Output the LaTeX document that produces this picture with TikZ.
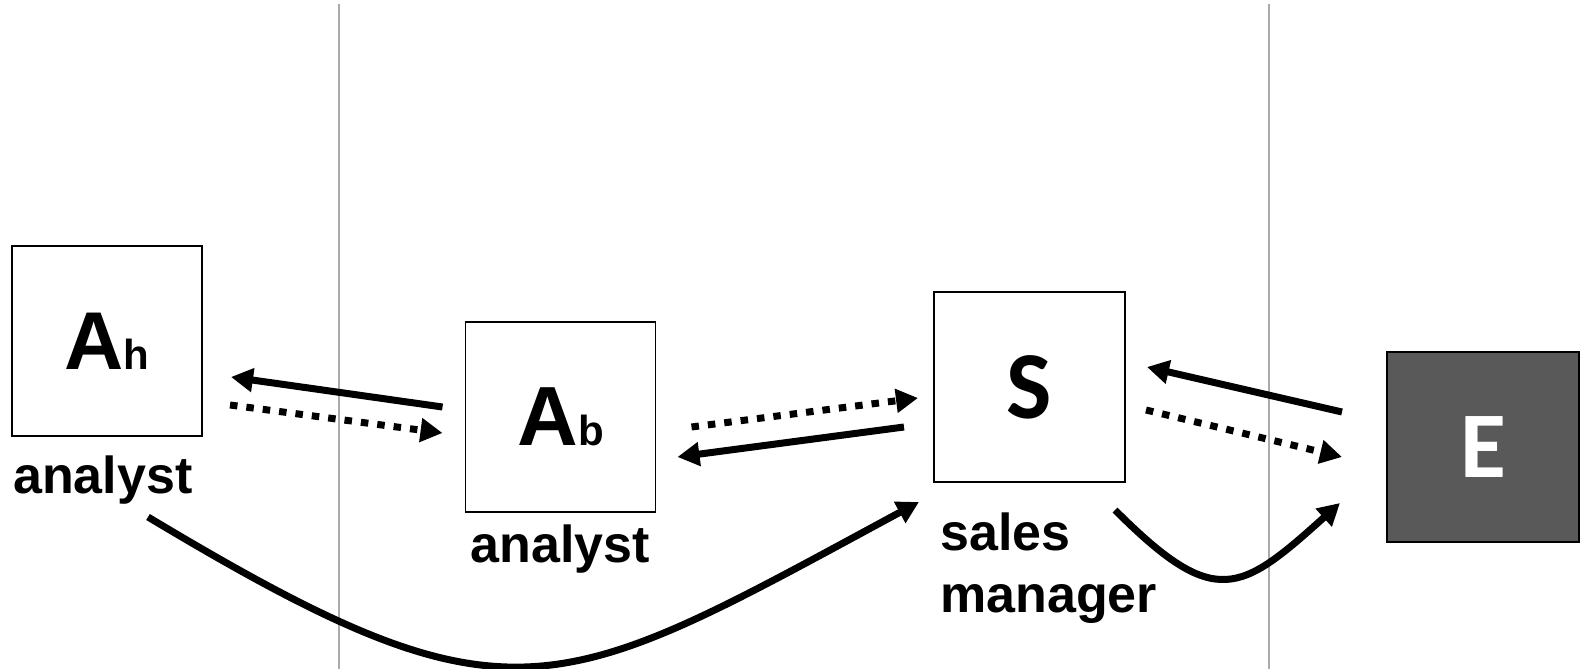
\documentclass[tikz,border=0pt]{standalone}
\usepackage{fontspec}
\setmainfont{Liberation Sans}
\newfontfamily\calib{Carlito}
\usetikzlibrary{arrows.meta,calc}
\definecolor{boxdark}{HTML}{595959}
\definecolor{sepgray}{HTML}{AAAAAA}
\begin{document}
\begin{tikzpicture}[x=1pt,y=-1pt,
  agent/.style={draw=black,line width=1.8pt,minimum width=190pt,minimum height=190pt,inner sep=0pt,outer sep=0pt},
  darkagent/.style={agent,fill=boxdark,text=white},
  lbl/.style={inner sep=0pt,font=\fontsize{52}{62}\selectfont\bfseries},
  sep/.style={draw=sepgray,line width=1.6pt},
  link/.style={line width=7pt,-{Triangle[length=22pt,width=23pt]}},
  dotlink/.style={link,dash pattern=on 7.5pt off 9pt}
]
\useasboundingbox (0,0) rectangle (1580,669);
\fill[white] (0,0) rectangle (1580,669);
% separators
\coordinate (s1t) at (339,4); \coordinate (s1b) at (339,669);
\coordinate (s2t) at (1269,4); \coordinate (s2b) at (1269,669);
\draw[sep] (s1t) -- (s1b);
\draw[sep] (s2t) -- (s2b);
% boxes
\node[agent] (Ah) at (107,341) {\fontsize{82}{82}\selectfont\bfseries A\fontsize{42}{42}\selectfont h};
\node[agent] (Ab) at (560.5,417) {\fontsize{84}{84}\selectfont\bfseries A\fontsize{42}{42}\selectfont b};
\node[agent,minimum width=191pt] (S) at (1029.5,387) {\raisebox{-3pt}{\calib\fontsize{96}{96}\selectfont\bfseries S}};
\node[darkagent,minimum width=192pt] (E) at (1483,447) {\raisebox{-2pt}{\calib\fontsize{94}{94}\selectfont\bfseries E}};
% labels
\node[lbl,anchor=base west] (lAh) at (13,493) {analyst};
\node[lbl,anchor=base] (lAb) at (560.5,562) {analyst};
\node[lbl,anchor=base west] (lS1) at (940,550) {sales};
\node[lbl,anchor=base west] (lS2) at (940,612) {manager};
% arrows
\draw[link] ($(Ab.west)+(-23,-10)$) -- ($(Ah.east)+(29,36)$);
\draw[dotlink] ($(Ah.east)+(28,64)$) -- ($(Ab.west)+(-23,16)$);
\draw[dotlink] ($(Ab.east)+(36,10)$) -- ($(S.west)+(-16,11)$);
\draw[link] ($(S.west)+(-30,40)$) -- ($(Ab.east)+(22,40)$);
\draw[link] ($(E.west)+(-45,-35)$) -- ($(S.east)+(22,-20)$);
\draw[dotlink] ($(S.east)+(21,23)$) -- ($(E.west)+(-45,10)$);
\draw[link] ($(S.south east)+(-10,28)$) .. controls +(100,100) and +(-100,90) .. ($(E.west)+(-47,56)$);
\draw[link] ($(Ah.south)+(41,81)$) .. controls +(365,219) and +(-365,197) .. ($(S.south west)+(-15,20)$);
\end{tikzpicture}
\end{document}
